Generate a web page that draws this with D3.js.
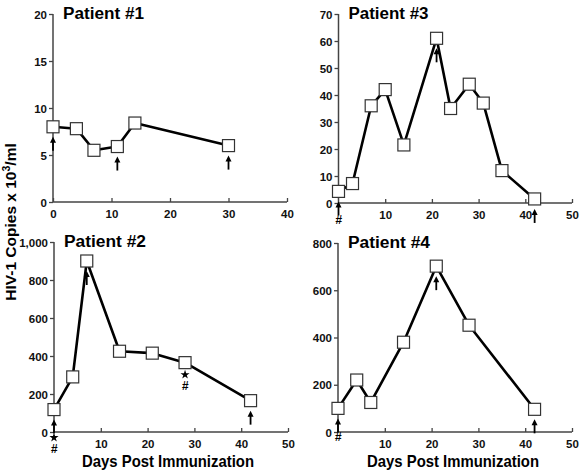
<!DOCTYPE html>
<html><head><meta charset="utf-8">
<script src="https://cdn.jsdelivr.net/npm/d3@7"></script>
<style>
body{margin:0;background:#fff;}
svg{display:block;font-family:"Liberation Sans",Arial,Helvetica,sans-serif;}
</style></head>
<body><svg id="c" width="585" height="474"></svg>
<script>
// Patient #1
const p1Days=[0,4,7,11,14,30];
const p1Vals=[8.0,7.8,5.5,5.9,8.4,6.0];
const p1Arrows=[0,11,30];
// Patient #2
const p2Days=[0,4,7,14,21,28,42];
const p2Vals=[118,290,900,425,415,365,165];
const p2Arrows=[0,7,42];
// Patient #3
const p3Days=[0,3,7,10,14,21,24,28,31,35,42];
const p3Vals=[4.3,7.2,36,42,21.5,61,35,44,37,12,1.5];
const p3Arrows=[0,21,42];
// Patient #4
const p4Days=[0,4,7,14,21,28,42];
const p4Vals=[100,220,125,380,702,452,96];
const p4Arrows=[0,21,42];

const p1YTicks=[0,5,10,15,20], p1XTicks=[0,10,20,30,40];
const p2YTicks=[0,200,400,600,800,1000], p2XTicks=[10,20,30,40,50];
const p3YTicks=[0,10,20,30,40,50,60,70], p3XTicks=[10,20,30,40,50];
const p4YTicks=[0,200,400,600,800], p4XTicks=[10,20,30,40,50];

const titles=["Patient #1","Patient #2","Patient #3","Patient #4"];
const xTitle="Days Post Immunization";

const svg=d3.select("#c");
const axisCol="#444";

function panel(cfg){
  const x=d3.scaleLinear().domain(cfg.xd).range(cfg.xr);
  const y=d3.scaleLinear().domain(cfg.yd).range(cfg.yr);
  const g=svg.append("g");
  const ya=g.append("g").attr("transform",`translate(${cfg.xr[0]},0)`)
    .call(d3.axisLeft(y).tickValues(cfg.yt).tickSize(4).tickPadding(2).tickFormat(cfg.yf||d3.format("d")));
  const xa=g.append("g").attr("transform",`translate(0,${cfg.yr[0]})`)
    .call(d3.axisBottom(x).tickValues(cfg.xt).tickSize(-4).tickPadding(0).tickFormat(d3.format("d")));
  [ya,xa].forEach(a=>{
    a.select(".domain").attr("stroke",axisCol).attr("stroke-width",1.5);
    a.selectAll(".tick line").attr("stroke",axisCol).attr("stroke-width",1.3);
    a.selectAll("text").attr("fill","#111").attr("font-size",11.5).attr("font-weight","bold");
  });
  ya.select(".domain").attr("d",`M0,${cfg.yr[1]}V${cfg.yr[0]}`);
  xa.select(".domain").attr("d",`M${cfg.xr[0]},0H${cfg.xr[1]}`);
  xa.selectAll("text").attr("dy",null).attr("y",16);
  ya.selectAll("text").attr("x",-6).attr("dy","0.36em");
  g.append("text").attr("x",cfg.xr[0]+10).attr("y",cfg.yr[1]+5)
    .attr("font-size",16).attr("font-weight","bold").attr("fill","#000")
    .attr("textLength",cfg.tl).attr("lengthAdjust","spacingAndGlyphs").text(cfg.title);
  const pts=cfg.days.map((d,i)=>[x(d),y(cfg.vals[i])]);
  g.append("path").attr("d",d3.line()(pts)).attr("fill","none")
    .attr("stroke","#000").attr("stroke-width",2.6).attr("stroke-linejoin","round");
  cfg.arrows.forEach(d=>{
    const i=cfg.days.indexOf(d);
    const px=x(d), py=y(cfg.vals[i]);
    const tip=py+10, tail=py+24;
    g.append("line").attr("x1",px).attr("x2",px).attr("y1",tip+4).attr("y2",tail)
      .attr("stroke","#000").attr("stroke-width",1.8);
    g.append("path").attr("d",`M${px},${tip}L${px-3},${tip+6}L${px+3},${tip+6}Z`).attr("fill","#000");
  });
  g.selectAll("rect.m").data(pts).enter().append("rect")
    .attr("x",p=>p[0]-6).attr("y",p=>p[1]-6).attr("width",12).attr("height",12)
    .attr("fill","#fff").attr("stroke","#333").attr("stroke-width",1.2);
  (cfg.marks||[]).forEach(m=>{
    const i=cfg.days.indexOf(m.day);
    const px=x(m.day), py=y(cfg.vals[i]);
    if(m.star!=null){
      g.append("path").attr("d",d3.symbol(d3.symbolStar,26)())
        .attr("transform",`translate(${px},${py+m.star})`).attr("fill","#000");
    }
    g.append("text").attr("x",px).attr("y",py+m.hash).attr("text-anchor","middle")
      .attr("font-size",12).attr("font-weight","bold").attr("font-style","italic")
      .attr("fill","#000").text("#");
  });
  return {x,y};
}

panel({xd:[0,40],xr:[53,287],yd:[0,20],yr:[202,14],xt:p1XTicks,yt:p1YTicks,
  days:p1Days,vals:p1Vals,arrows:p1Arrows,title:titles[0],tl:81});
panel({xd:[0,50],xr:[54,288],yd:[0,1000],yr:[432,242],xt:p2XTicks,yt:p2YTicks,yf:d3.format(","),
  days:p2Days,vals:p2Vals,arrows:p2Arrows,title:titles[1],tl:82,
  marks:[{day:0,star:28,hash:43},{day:28,star:12,hash:27}]});
panel({xd:[0,50],xr:[338.5,572],yd:[0,70],yr:[203,14],xt:p3XTicks,yt:p3YTicks,
  days:p3Days,vals:p3Vals,arrows:p3Arrows,title:titles[2],tl:80,
  marks:[{day:0,hash:33}]});
panel({xd:[0,50],xr:[338,572],yd:[0,800],yr:[432,243],xt:p4XTicks,yt:p4YTicks,
  days:p4Days,vals:p4Vals,arrows:p4Arrows,title:titles[3],tl:82,
  marks:[{day:0,hash:33}]});

svg.append("text").attr("x",168).attr("y",467).attr("text-anchor","middle")
  .attr("font-size",17).attr("font-weight","bold").attr("textLength",172).attr("lengthAdjust","spacingAndGlyphs").text(xTitle);
svg.append("text").attr("x",453).attr("y",467).attr("text-anchor","middle")
  .attr("font-size",17).attr("font-weight","bold").attr("textLength",172).attr("lengthAdjust","spacingAndGlyphs").text(xTitle);
const yt=svg.append("text").attr("transform","translate(16,222) rotate(-90)").attr("text-anchor","middle")
  .attr("font-size",15.5).attr("font-weight","bold");
yt.append("tspan").text("HIV-1 Copies x 10");
yt.append("tspan").attr("font-size",10.5).attr("dy",-6).text("3");
yt.append("tspan").attr("dy",6).text("/ml");
</script></body></html>
